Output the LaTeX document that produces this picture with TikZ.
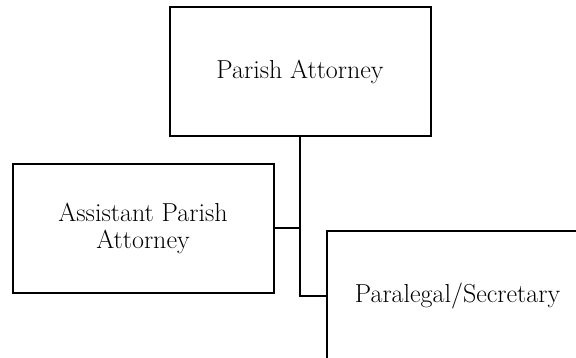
\documentclass[tikz,border=0pt]{standalone}
\begin{document}
\begin{tikzpicture}[x=1pt,y=-1pt,
  orgbox/.style={draw=black, line width=2pt, fill=white, minimum width=261pt, minimum height=129pt,
    inner sep=0pt, align=center, font=\fontsize{26}{27}\selectfont},
  link/.style={draw=black, line width=2pt}]
\useasboundingbox (0,0) rectangle (576,358);
\fill[white] (0,0) rectangle (576,358);
\node[orgbox] (pa) at (300,72) {Parish Attorney};
\node[orgbox] (apa) at (143,228.5) {Assistant Parish\\Attorney};
\node[orgbox] (ps) at (457.5,296) {Paralegal/Secretary};
\coordinate (junction) at (pa.south |- ps.west);
\draw[link] (pa.south) -- (junction) -- (ps.west);
\draw[link] (apa.east) -- (apa.east -| pa.south);
\end{tikzpicture}
\end{document}
